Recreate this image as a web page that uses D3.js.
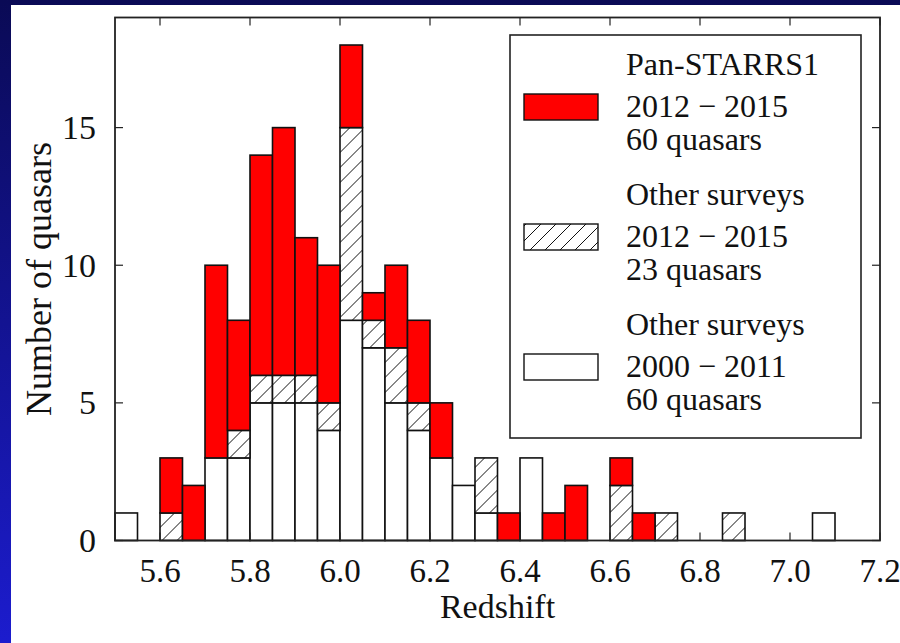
<!DOCTYPE html>
<html>
<head>
<meta charset="utf-8">
<script src="https://cdn.jsdelivr.net/npm/d3@7"></script>
<style>
  body { margin: 0; padding: 0; overflow: hidden; }
  text { font-family: "Liberation Serif", "DejaVu Serif", serif; fill: #111; }
</style>
</head>
<body>
<div id="graph"></div>
<script>
// redshift bins, lower edges, width 0.05
var binEdges = [5.50, 5.55, 5.60, 5.65, 5.70, 5.75, 5.80, 5.85, 5.90, 5.95,
                6.00, 6.05, 6.10, 6.15, 6.20, 6.25, 6.30, 6.35, 6.40, 6.45,
                6.50, 6.55, 6.60, 6.65, 6.70, 6.75, 6.80, 6.85, 6.90, 6.95,
                7.00, 7.05, 7.10, 7.15];
var binWidth = 0.05;

// counts per bin, stacked bottom -> top
var older2000 = [1, 0, 0, 0, 3, 3, 5, 5, 5, 4, 8, 7, 5, 4, 3, 2, 1, 0, 3, 0,
                 0, 0, 0, 0, 0, 0, 0, 0, 0, 0, 0, 1, 0, 0];
var other2012 = [0, 0, 1, 0, 0, 1, 1, 1, 1, 1, 7, 1, 2, 1, 0, 0, 2, 0, 0, 0,
                 0, 0, 2, 0, 1, 0, 0, 1, 0, 0, 0, 0, 0, 0];
var ps1_2012  = [0, 0, 2, 2, 7, 4, 8, 9, 5, 5, 3, 1, 3, 3, 2, 0, 0, 1, 0, 1,
                 2, 0, 1, 1, 0, 0, 0, 0, 0, 0, 0, 0, 0, 0];

var xTicks = [5.6, 5.8, 6.0, 6.2, 6.4, 6.6, 6.8, 7.0, 7.2];
var yTicks = [0, 5, 10, 15];

var legendItems = [
  {key: "ps1",   lines: ["Pan-STARRS1", "2012 \u2212 2015", "60 quasars"]},
  {key: "other", lines: ["Other surveys", "2012 \u2212 2015", "23 quasars"]},
  {key: "old",   lines: ["Other surveys", "2000 \u2212 2011", "60 quasars"]}
];

var W = 900, H = 643;
var margin = {top: 17.5, right: 20, bottom: 102.5, left: 115},
    width = 880 - margin.left,
    height = H - margin.top - margin.bottom;

var svg = d3.select("#graph").append("svg")
    .attr("width", W)
    .attr("height", H);

// slide background
var defs = svg.append("defs");
var grad = defs.append("linearGradient")
    .attr("id", "bg").attr("x1", 0).attr("y1", 0).attr("x2", 0).attr("y2", 1);
grad.append("stop").attr("offset", "0%").attr("stop-color", "#0a0a55");
grad.append("stop").attr("offset", "100%").attr("stop-color", "#1c1cce");
svg.append("rect").attr("width", W).attr("height", H).attr("fill", "url(#bg)");
svg.append("rect").attr("x", 11).attr("y", 5).attr("width", W - 11).attr("height", H - 5)
    .attr("fill", "#fff");

// diagonal hatch
var hatch = defs.append("pattern")
    .attr("id", "hatch")
    .attr("patternUnits", "userSpaceOnUse")
    .attr("width", 15).attr("height", 15);
hatch.append("rect").attr("width", 15).attr("height", 15).attr("fill", "#fff");
hatch.append("path")
    .attr("d", "M-2,2 L2,-2 M0,15 L15,0 M13,17 L17,13")
    .attr("stroke", "#111").attr("stroke-width", 1);

var fills = {old: "#fff", other: "url(#hatch)", ps1: "#ff0000"};

var g = svg.append("g")
    .attr("transform", "translate(" + margin.left + "," + margin.top + ")");

var x = d3.scaleLinear().domain([5.5, 7.2]).range([0, width]);
var y = d3.scaleLinear().domain([0, 19]).range([height, 0]);

var table = binEdges.map(function(e, i) {
  return {x0: e, old: older2000[i], other: other2012[i], ps1: ps1_2012[i]};
});
var stacked = d3.stack().keys(["old", "other", "ps1"])(table);

g.selectAll("g.layer")
  .data(stacked)
  .enter().append("g")
  .attr("class", "layer")
  .attr("fill", function(d) { return fills[d.key]; })
  .selectAll("rect")
  .data(function(d) { return d.filter(function(s) { return s[1] > s[0]; }); })
  .enter().append("rect")
  .attr("x", function(d) { return x(d.data.x0); })
  .attr("width", function(d) { return x(d.data.x0 + binWidth) - x(d.data.x0); })
  .attr("y", function(d) { return y(d[1]); })
  .attr("height", function(d) { return y(d[0]) - y(d[1]); })
  .attr("stroke", "#111")
  .attr("stroke-width", 1.6);

// ticks on all four sides, pointing inwards
var tickLen = 8;
var axes = g.append("g").attr("stroke", "#222").attr("stroke-width", 1.2);
xTicks.forEach(function(t) {
  axes.append("line").attr("x1", x(t)).attr("x2", x(t)).attr("y1", height).attr("y2", height - tickLen);
  axes.append("line").attr("x1", x(t)).attr("x2", x(t)).attr("y1", 0).attr("y2", tickLen);
});
yTicks.forEach(function(t) {
  axes.append("line").attr("x1", 0).attr("x2", tickLen).attr("y1", y(t)).attr("y2", y(t));
  axes.append("line").attr("x1", width).attr("x2", width - tickLen).attr("y1", y(t)).attr("y2", y(t));
});

g.append("rect")
  .attr("width", width).attr("height", height)
  .attr("fill", "none").attr("stroke", "#222").attr("stroke-width", 1.8);

// tick labels
g.selectAll("text.xt")
  .data(xTicks)
  .enter().append("text")
  .attr("class", "xt")
  .attr("x", function(d) { return x(d); })
  .attr("y", height + 41)
  .attr("text-anchor", "middle")
  .style("font-size", "33px")
  .text(function(d) { return d3.format(".1f")(d); });

g.selectAll("text.yt")
  .data(yTicks)
  .enter().append("text")
  .attr("class", "yt")
  .attr("x", -19)
  .attr("y", function(d) { return y(d); })
  .attr("dy", "0.34em")
  .attr("text-anchor", "end")
  .style("font-size", "34px")
  .text(function(d) { return d; });

// axis titles
g.append("text")
  .attr("x", width / 2)
  .attr("y", height + 77)
  .attr("text-anchor", "middle")
  .style("font-size", "34px")
  .text("Redshift");

g.append("text")
  .attr("transform", "translate(" + (51 - margin.left) + "," + (height / 2) + ") rotate(-90)")
  .attr("text-anchor", "middle")
  .style("font-size", "36px")
  .text("Number of quasars");

// legend
var legend = svg.append("g").attr("transform", "translate(510,35)");
legend.append("rect")
  .attr("width", 351).attr("height", 403)
  .attr("fill", "#fff").attr("stroke", "#222").attr("stroke-width", 1.6);

var item = legend.selectAll("g.item")
  .data(legendItems)
  .enter().append("g")
  .attr("class", "item")
  .attr("transform", function(d, i) { return "translate(0," + (i * 130) + ")"; });

item.append("rect")
  .attr("x", 14).attr("y", 59)
  .attr("width", 74).attr("height", 26)
  .attr("fill", function(d) { return fills[d.key]; })
  .attr("stroke", "#111").attr("stroke-width", 1.4);

var lineY = [40, 82, 115];
item.selectAll("text")
  .data(function(d) { return d.lines; })
  .enter().append("text")
  .attr("x", 116)
  .attr("y", function(d, i) { return lineY[i]; })
  .style("font-size", "32px")
  .text(function(d) { return d; });
</script>
</body>
</html>
